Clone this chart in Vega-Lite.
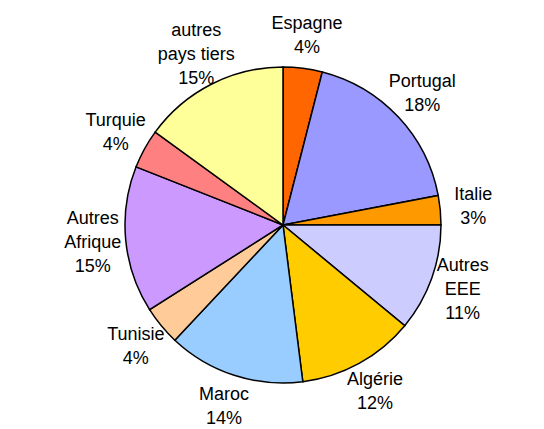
{
  "$schema": "https://vega.github.io/schema/vega-lite/v6.json",
  "width": 522,
  "height": 408,
  "autosize": "none",
  "padding": {"left": 22, "top": 21, "right": 0, "bottom": 0},
  "background": "white",
  "data": {
    "values": [
      {"order": 1, "pays": "Espagne", "pct": 4, "label": "Espagne\n4%"},
      {"order": 2, "pays": "Portugal", "pct": 18, "label": "Portugal\n18%"},
      {"order": 3, "pays": "Italie", "pct": 3, "label": "Italie\n3%"},
      {"order": 4, "pays": "Autres EEE", "pct": 11, "label": "Autres\nEEE\n11%"},
      {"order": 5, "pays": "Algérie", "pct": 12, "label": "Algérie\n12%"},
      {"order": 6, "pays": "Maroc", "pct": 14, "label": "Maroc\n14%"},
      {"order": 7, "pays": "Tunisie", "pct": 4, "label": "Tunisie\n4%"},
      {"order": 8, "pays": "Autres Afrique", "pct": 15, "label": "Autres\nAfrique\n15%"},
      {"order": 9, "pays": "Turquie", "pct": 4, "label": "Turquie\n4%"},
      {"order": 10, "pays": "autres pays tiers", "pct": 15, "label": "autres\npays tiers\n15%"}
    ]
  },
  "encoding": {
    "theta": {"field": "pct", "type": "quantitative", "stack": true},
    "order": {"field": "order", "type": "quantitative"}
  },
  "layer": [
    {
      "mark": {"type": "arc", "outerRadius": 158, "stroke": "black", "strokeWidth": 1.5},
      "encoding": {
        "color": {
          "field": "pays",
          "type": "nominal",
          "scale": {
            "domain": ["Espagne", "Portugal", "Italie", "Autres EEE", "Algérie", "Maroc", "Tunisie", "Autres Afrique", "Turquie", "autres pays tiers"],
            "range": ["#FF6600", "#9999FF", "#FF9900", "#CCCCFF", "#FFCC00", "#99CCFF", "#FFCC99", "#CC99FF", "#FF8080", "#FFFF99"]
          },
          "legend": null
        }
      }
    },
    {
      "mark": {"type": "text", "radius": 191, "font": "Liberation Sans", "fontSize": 18, "lineBreak": "\n", "lineHeight": 24, "baseline": "middle", "align": "center", "color": "black",
        "dy": {"expr": "-12 * (length(split(datum.label, '\\n')) - 1)"}},
      "encoding": {
        "text": {"field": "label", "type": "nominal"}
      }
    }
  ]
}
